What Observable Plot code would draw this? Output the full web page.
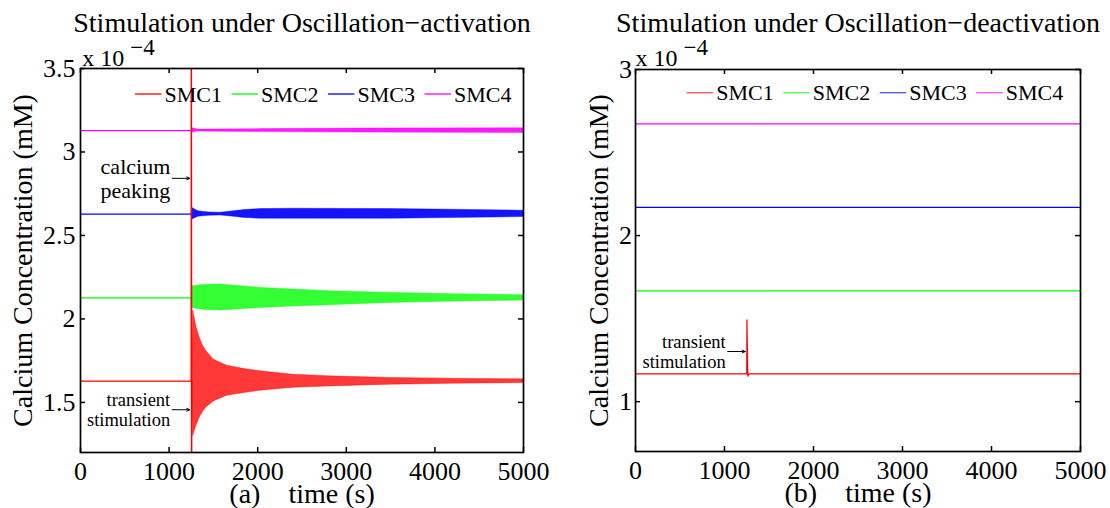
<!DOCTYPE html>
<html><head><meta charset="utf-8">
<script src="https://cdn.jsdelivr.net/npm/d3@7"></script>
<script src="https://cdn.jsdelivr.net/npm/@observablehq/plot@0.6"></script>
<style>
html,body{margin:0;padding:0;background:#fff;font-family:"Liberation Serif",serif;}
#wrap{position:relative;width:1110px;height:508px;}
#pa{position:absolute;left:0;top:0;}
#pb{position:absolute;left:555px;top:0;}
</style></head><body>
<div id="wrap"><div id="pa"></div><div id="pb"></div></div>
<script>
// ---------- data ----------
const seriesNames = ["SMC1", "SMC2", "SMC3", "SMC4"];
const seriesColors = ["#ff0000", "#00ff00", "#0000ff", "#ff00ff"];
const xTicks = [0, 1000, 2000, 3000, 4000, 5000];
const yTicksA = [1.5, 2, 2.5, 3, 3.5];
const yTicksB = [1, 2, 3];
const stimTime = 1250;
const tEnd = 5000;

// panel (a): oscillation-activation (values x 1e-4 mM)
const baseA = [1.628, 2.126, 2.628, 3.128];
const smc1SpikeTimeA = [1250, 1251, 1254, 1256];
const smc1SpikeValA = [1.628, 3.6, 1.1, 1.628];
const smc1TimeA = [1256, 1272, 1309, 1347, 1385, 1422, 1505, 1655, 1850, 2030, 2400, 2800, 3500, 4200, 5000];
const smc1UpperA = [1.628, 2.05, 1.95, 1.886, 1.836, 1.806, 1.756, 1.72, 1.70, 1.686, 1.666, 1.656, 1.646, 1.642, 1.638];
const smc1LowerA = [1.628, 1.30, 1.36, 1.41, 1.445, 1.47, 1.506, 1.54, 1.556, 1.57, 1.588, 1.596, 1.606, 1.612, 1.616];
const smc2TimeA = [1252, 1265, 1400, 1580, 1800, 2030, 2400, 2800, 3500, 4200, 5000];
const smc2UpperA = [2.126, 2.196, 2.204, 2.206, 2.196, 2.186, 2.176, 2.166, 2.156, 2.148, 2.142];
const smc2LowerA = [2.126, 2.066, 2.054, 2.05, 2.058, 2.066, 2.074, 2.082, 2.096, 2.104, 2.11];
const smc3TimeA = [1252, 1262, 1330, 1450, 1580, 1730, 1850, 2030, 2400, 3500, 4200, 5000];
const smc3UpperA = [2.628, 2.665, 2.645, 2.638, 2.636, 2.645, 2.652, 2.658, 2.66, 2.658, 2.654, 2.648];
const smc3LowerA = [2.628, 2.595, 2.612, 2.618, 2.62, 2.612, 2.605, 2.6, 2.6, 2.6, 2.604, 2.61];
const smc4TimeA = [1252, 1262, 1330, 1500, 2030, 3160, 5000];
const smc4UpperA = [3.128, 3.142, 3.134, 3.135, 3.137, 3.14, 3.142];
const smc4LowerA = [3.128, 3.116, 3.122, 3.121, 3.119, 3.116, 3.114];

// panel (b): oscillation-deactivation
const baseB = [1.167, 1.667, 2.170, 2.673];
const smc1TimeB = [0, 1250, 1252, 1262, 1272, 5000];
const smc1ValB = [1.167, 1.167, 1.492, 1.153, 1.167, 1.167];

// annotations (text, value at the stimulation time)
const annotTextA = ["calcium\npeaking", "transient\nstimulation"];
const annotValA = [2.842, 1.456];
const annotTextB = ["transient\nstimulation"];
const annotValB = [1.302];

// ---------- helpers ----------
const FONT = "Liberation Serif";
const zip = (ts, vs) => ts.map((t, i) => ({t, v: vs[i]}));
const band = (ts, hi, lo) => ts.map((t, i) => ({t, hi: hi[i], lo: lo[i]}));
const W = 555, H = 508;

function panel(cfg) {
  const plotW = W - cfg.ml - cfg.mr, plotH = H - cfg.mt - cfg.mb;
  const [y0, y1] = cfg.yDomain;
  const ppx = tEnd / plotW, ppy = (y1 - y0) / plotH;
  const tick = 5;
  const marks = [
    Plot.ruleX(xTicks, {x: d => d, y1: y0, y2: y0 + tick * ppy, strokeWidth: 1.5}),
    Plot.ruleX(xTicks, {x: d => d, y1: y1, y2: y1 - tick * ppy, strokeWidth: 1.5}),
    Plot.ruleY(cfg.yTicks, {y: d => d, x1: 0, x2: tick * ppx, strokeWidth: 1.5}),
    Plot.ruleY(cfg.yTicks, {y: d => d, x1: tEnd, x2: tEnd - tick * ppx, strokeWidth: 1.5}),
    ...cfg.dataMarks,
    Plot.frame({strokeWidth: 1.7}),
    Plot.axisX({ticks: xTicks, tickSize: 0, tickPadding: 9, fontSize: 26, tickFormat: d => String(d), label: null}),
    Plot.axisY({ticks: cfg.yTicks, tickSize: 0, tickPadding: cfg.yPad, fontSize: 26, tickFormat: d => String(d), label: null}),
    Plot.text([cfg.title], {text: d => d, frameAnchor: "top", dy: cfg.titleDy, fontSize: 28, textAnchor: "middle", lineAnchor: "middle"}),
    Plot.text([cfg.xLabel], {text: d => d, frameAnchor: "bottom", dy: 42, fontSize: 28, textAnchor: "middle", lineAnchor: "middle"}),
    Plot.text(["Calcium Concentration (mM)"], {text: d => d, frameAnchor: "left", rotate: -90, dx: cfg.yLabelDx, fontSize: 28, textAnchor: "middle", lineAnchor: "middle"}),
    Plot.text(["x 10"], {text: d => d, frameAnchor: "top-left", dx: cfg.expDx, dy: cfg.expDy, fontSize: 24, textAnchor: "start", lineAnchor: "middle"}),
    Plot.text(["\u22124"], {text: d => d, frameAnchor: "top-left", dx: cfg.expDx + 48, dy: cfg.expDy - 10.5, fontSize: 23, textAnchor: "start", lineAnchor: "middle"}),
    Plot.text(cfg.annot, {x: "t", y: "v", text: "label", dx: -21, textAnchor: "end", lineAnchor: "middle", fontSize: d => d.size, lineHeight: 1.1}),
    Plot.arrow(cfg.annot, {x1: d => d.t - 19 * ppx, x2: d => d.t - 1.5 * ppx, y1: "v", y2: "v", stroke: "black", strokeWidth: 1, headLength: 5, headAngle: 50})
  ];
  const svg = Plot.plot({
    width: W, height: H,
    marginLeft: cfg.ml, marginRight: cfg.mr, marginTop: cfg.mt, marginBottom: cfg.mb,
    x: {domain: [0, tEnd]},
    y: {domain: cfg.yDomain},
    style: {fontFamily: FONT, background: "white", color: "black", overflow: "visible"},
    marks
  });
  const g = d3.select(svg).append("g").attr("text-anchor", "start");
  seriesNames.forEach((name, i) => {
    const x0 = cfg.legendX + i * 96.5;
    g.append("line").attr("x1", x0).attr("x2", x0 + 26.5).attr("y1", cfg.legendY).attr("y2", cfg.legendY)
      .attr("stroke", seriesColors[i]).attr("stroke-width", 1.3).attr("stroke-opacity", cfg.legendOpacity);
    g.append("text").attr("x", x0 + 29.5).attr("y", cfg.legendY).attr("dy", "0.35em")
      .attr("text-anchor", "start").attr("font-size", 22).attr("fill", "black").text(name);
  });
  d3.select(svg).selectAll("text").attr("font-family", FONT);
  return svg;
}

// ---------- panel (a) marks ----------
const bandsA = [
  band(smc1TimeA, smc1UpperA, smc1LowerA),
  band(smc2TimeA, smc2UpperA, smc2LowerA),
  band(smc3TimeA, smc3UpperA, smc3LowerA),
  band(smc4TimeA, smc4UpperA, smc4LowerA)
];
const bandOpacity = [0.78, 0.8, 0.92, 0.9];
const marksA = [];
seriesNames.forEach((n, i) => {
  marksA.push(Plot.line([{t: 0, v: baseA[i]}, {t: stimTime, v: baseA[i]}], {x: "t", y: "v", stroke: seriesColors[i], strokeWidth: 1.3, clip: true}));
});
seriesNames.forEach((n, i) => {
  marksA.push(Plot.areaY(bandsA[i], {x: "t", y1: "lo", y2: "hi", fill: seriesColors[i], fillOpacity: bandOpacity[i], stroke: seriesColors[i], strokeWidth: 0.5, strokeOpacity: 0.8, clip: true}));
});
marksA.push(Plot.line(zip(smc1SpikeTimeA, smc1SpikeValA), {x: "t", y: "v", stroke: seriesColors[0], strokeWidth: 1.5, clip: true}));

// ---------- panel (b) marks ----------
const marksB = [];
seriesNames.forEach((n, i) => {
  const data = i === 0 ? zip(smc1TimeB, smc1ValB) : [{t: 0, v: baseB[i]}, {t: tEnd, v: baseB[i]}];
  marksB.push(Plot.line(data, {x: "t", y: "v", stroke: seriesColors[i], strokeWidth: 1.2, clip: true}));
});

const annotA = annotTextA.map((label, i) => ({label, t: stimTime, v: annotValA[i], size: i === 0 ? 22 : 18.5}));
const annotB = annotTextB.map((label, i) => ({label, t: stimTime, v: annotValB[i], size: 18.5}));

const svgA = panel({
  ml: 80, mr: 32, mt: 68, mb: 56, yDomain: [1.2, 3.5], yTicks: yTicksA, yPad: 5,
  title: "Stimulation under Oscillation\u2212activation", titleDy: -45.3,
  xLabel: "(a)\u00a0\u00a0\u00a0\u00a0time (s)", yLabelDx: -57,
  expDx: 1.7, expDy: -10, legendX: 135, legendY: 94, legendOpacity: 1,
  dataMarks: marksA, annot: annotA
});
const svgB = panel({
  ml: 80, mr: 30, mt: 69, mb: 57, yDomain: [0.7, 3], yTicks: yTicksB, yPad: 3.5,
  title: "Stimulation under Oscillation\u2212deactivation", titleDy: -46.3,
  xLabel: "(b)\u00a0\u00a0\u00a0\u00a0time (s)", yLabelDx: -36.5,
  expDx: 0, expDy: -11, legendX: 131.7, legendY: 92.7, legendOpacity: 0.7,
  dataMarks: marksB, annot: annotB
});
document.getElementById("pa").append(svgA);
document.getElementById("pb").append(svgB);
</script></body></html>
